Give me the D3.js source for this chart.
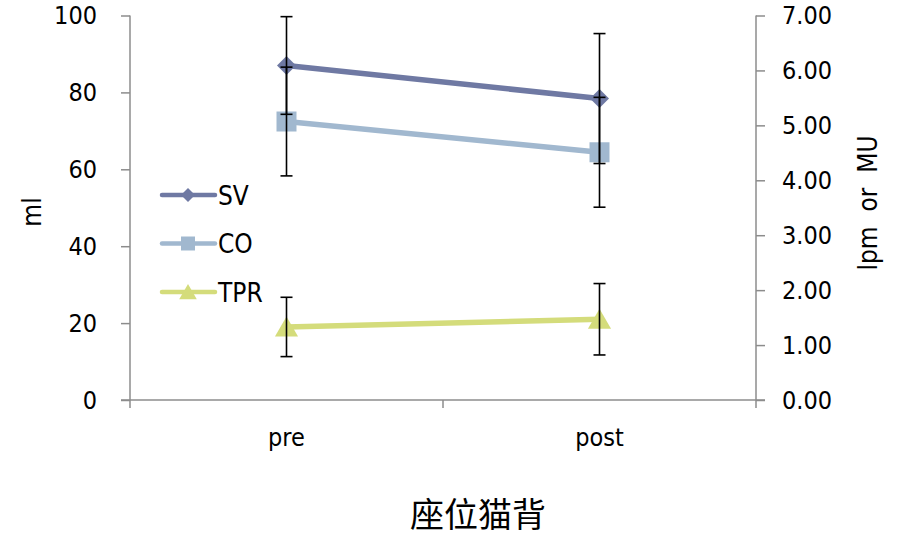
<!DOCTYPE html>
<html>
<head>
<meta charset="utf-8">
<script src="https://cdn.jsdelivr.net/npm/d3@7"></script>
<style>
  html, body { margin: 0; padding: 0; background: #fff; }
  svg { display: block; }
  text { font-family: "DejaVu Sans Condensed", "Liberation Sans", sans-serif; fill: #000; white-space: pre; }
</style>
</head>
<body>
<svg id="chart" width="905" height="540"></svg>
<script>
// Categories and series values (SV in ml on the left axis; CO and TPR on the right axis)
const categories = ["pre", "post"];
const svValues = [87.0, 78.4];
const svErrors = [12.7, 16.9];
const coValues = [5.07, 4.51];
const coErrors = [0.99, 1.00];
const tprValues = [1.33, 1.47];
const tprErrors = [0.54, 0.65];
const leftTicks = [0, 20, 40, 60, 80, 100];
const rightTicks = [0, 1, 2, 3, 4, 5, 6, 7];
const seriesNames = ["SV", "CO", "TPR"];
const seriesColors = ["#6f79a3", "#a1b8cf", "#d4dc7b"];

const svg = d3.select("#chart");
const plot = { left: 130, right: 756, top: 15.5, bottom: 400 };

const x = d3.scaleBand().domain(categories).range([plot.left, plot.right]);
const cx = d => x(d) + x.bandwidth() / 2;
const yL = d3.scaleLinear().domain([0, 100]).range([plot.bottom, plot.top]);
const yR = d3.scaleLinear().domain([0, 7]).range([plot.bottom, plot.top]);

const axisColor = "#8c8c8c";
const fontSize = 25;

// Left axis
const gL = svg.append("g").attr("transform", `translate(${plot.left},0)`)
  .call(d3.axisLeft(yL).tickValues(leftTicks).tickSize(9).tickPadding(24).tickFormat(d3.format("d")));
// Right axis
const gR = svg.append("g").attr("transform", `translate(${plot.right},0)`)
  .call(d3.axisRight(yR).tickValues(rightTicks).tickSize(9).tickPadding(17).tickFormat(d3.format(".2f")));
[gL, gR].forEach(g => {
  g.select(".domain").attr("stroke", axisColor).attr("stroke-width", 1.5)
    .attr("d", `M0,${plot.top}V${plot.bottom}`);
  g.selectAll(".tick line").attr("stroke", axisColor).attr("stroke-width", 1.5);
  g.selectAll(".tick text").attr("font-size", fontSize).attr("fill", "#000")
    .attr("font-family", "'DejaVu Sans Condensed', 'Liberation Sans', sans-serif");
});

// Category axis along the bottom, ticks on the band boundaries
const gX = svg.append("g").attr("transform", `translate(0,${plot.bottom})`);
gX.append("line").attr("x1", plot.left - 9).attr("x2", plot.right + 9)
  .attr("stroke", axisColor).attr("stroke-width", 1.5);
const bounds = categories.map(d => x(d)).concat([x(categories[categories.length - 1]) + x.bandwidth()]);
gX.selectAll("line.tk").data(bounds).join("line").attr("class", "tk")
  .attr("x1", d => d).attr("x2", d => d).attr("y1", 0).attr("y2", 8)
  .attr("stroke", axisColor).attr("stroke-width", 1.5);
gX.selectAll("text").data(categories).join("text")
  .attr("x", d => cx(d)).attr("y", 46).attr("text-anchor", "middle")
  .attr("font-size", fontSize).text(d => d);

// Axis titles
svg.append("text").attr("transform", "translate(41,212) rotate(-90)")
  .attr("text-anchor", "middle").attr("font-size", 26).text("ml");
svg.append("text").attr("transform", "translate(877,203) rotate(-90)")
  .attr("text-anchor", "middle").attr("font-size", 26).text("lpm  or  MU");
svg.append("text").attr("x", 478).attr("y", 527).attr("text-anchor", "middle")
  .attr("font-size", 34).style("font-family", "'Noto Sans CJK SC', sans-serif").text("座位猫背");

// Marker shapes
const markerPath = {
  diamond: s => `M0,${-s}L${s},0L0,${s}L${-s},0Z`,
  square: s => `M${-s},${-s}H${s}V${s}H${-s}Z`,
  triangle: s => `M0,${-s}L${s * 1.1},${s * 0.9}L${-s * 1.1},${s * 0.9}Z`
};
const shapes = ["diamond", "square", "triangle"];
const markerSize = [9.5, 10, 10.5];

const series = [
  { name: seriesNames[0], values: svValues, errors: svErrors, y: yL },
  { name: seriesNames[1], values: coValues, errors: coErrors, y: yR },
  { name: seriesNames[2], values: tprValues, errors: tprErrors, y: yR }
];

const line = (s) => d3.line().x((d, i) => cx(categories[i])).y(d => s.y(d))(s.values);

// Lines and markers
series.forEach((s, k) => {
  svg.append("path").attr("d", line(s)).attr("fill", "none")
    .attr("stroke", seriesColors[k]).attr("stroke-width", 5.5).attr("stroke-linecap", "round");
  svg.selectAll(null).data(s.values).join("path")
    .attr("transform", (d, i) => `translate(${cx(categories[i])},${s.y(d)})`)
    .attr("d", markerPath[shapes[k]](markerSize[k])).attr("fill", seriesColors[k]);
});

// Error bars on top
series.forEach((s) => {
  const g = svg.append("g").attr("stroke", "#000").attr("stroke-width", 1.6);
  s.values.forEach((v, i) => {
    const px = cx(categories[i]);
    const hi = s.y(v + s.errors[i]), lo = s.y(v - s.errors[i]);
    g.append("line").attr("x1", px).attr("x2", px).attr("y1", hi).attr("y2", lo);
    g.append("line").attr("x1", px - 6).attr("x2", px + 6).attr("y1", hi).attr("y2", hi);
    g.append("line").attr("x1", px - 6).attr("x2", px + 6).attr("y1", lo).attr("y2", lo);
  });
});

// Legend
const legend = svg.append("g");
series.forEach((s, k) => {
  const ly = 195 + k * 48.5;
  legend.append("line").attr("x1", 162).attr("x2", 215).attr("y1", ly).attr("y2", ly)
    .attr("stroke", seriesColors[k]).attr("stroke-width", 4.5).attr("stroke-linecap", "round");
  legend.append("path").attr("transform", `translate(188,${ly})`)
    .attr("d", markerPath[shapes[k]](k === 2 ? 8 : 7)).attr("fill", seriesColors[k]);
  legend.append("text").attr("x", 218).attr("y", ly + 9.5).attr("font-size", 26).text(s.name);
});
</script>
</body>
</html>
